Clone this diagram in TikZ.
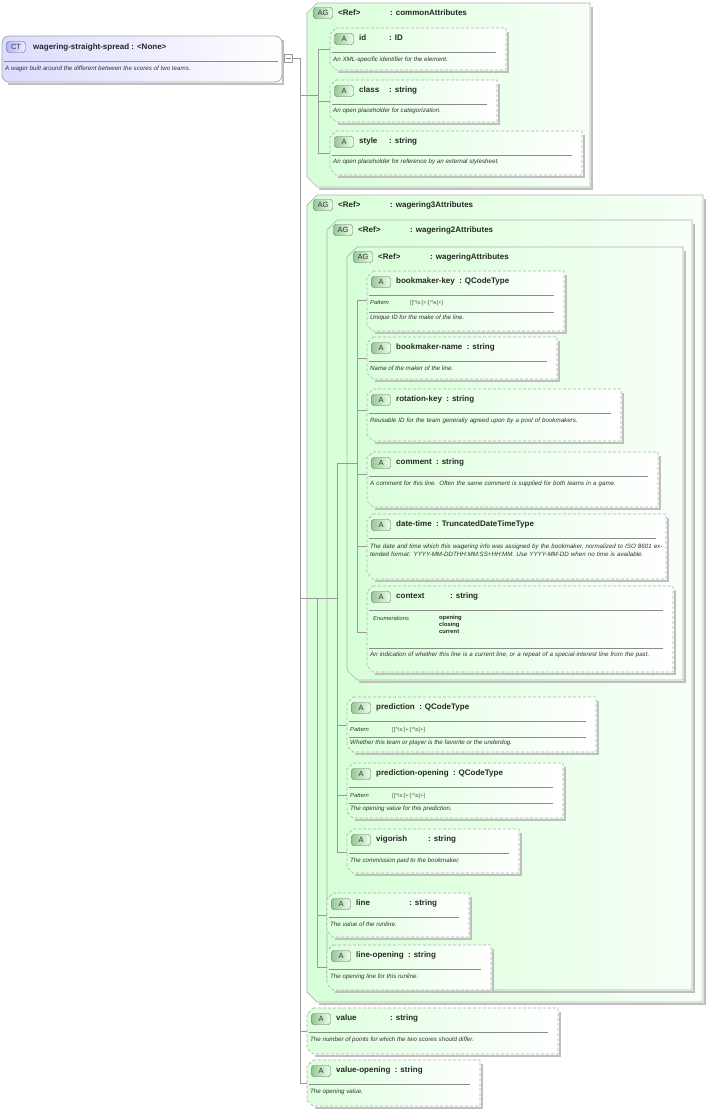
\documentclass[tikz,border=0pt]{standalone}
\usepackage{fontspec}
\setmainfont{Liberation Sans}
\begin{document}
\begin{tikzpicture}[x=1pt,y=-1pt,
 abox/.style={draw=black!30,dashed,dash pattern=on 3pt off 2pt,left color=green!14,right color=white,line width=0.7pt},
 agbox/.style={draw=black!30,left color=green!16,right color=green!3,line width=0.7pt},
 shad/.style={draw=black!25,line width=1.5pt},
 badge/.style={draw=black!60,rounded corners=2.5pt,left color=green!45!black!40,right color=green!8,minimum width=19pt,minimum height=11pt,inner sep=0,font=\fontsize{7.5}{8}\selectfont,text=black!80},
 title/.style={font=\bfseries\fontsize{8}{9}\selectfont,anchor=west,inner sep=0,text=black!85},
 desc/.style={font=\itshape\fontsize{6.2}{7.4}\selectfont,anchor=north west,inner sep=0,align=left,text=black!80},
 small/.style={font=\fontsize{5.6}{6.6}\selectfont,anchor=west,inner sep=0,text=black!65},
 enum/.style={font=\bfseries\fontsize{5.8}{7.2}\selectfont,anchor=north west,inner sep=0,align=left,text=black!85},
 sep/.style={draw=black!45,line width=0.5pt},
 conn/.style={draw=black!40,line width=0.6pt}]
\useasboundingbox (0,0) rectangle (708,1111);
\fill[white] (0,0) rectangle (708,1111);
% attribute box; name given by \an
\newcommand\attr[8]{%
 \draw[shad] (#4+2,#3+4) -- (#4+2,#5+2) -- (#2+8,#5+2);
 \draw[abox] (#2+6,#3) -- (#4,#3) -- (#4,#5) -- (#2+6,#5) -- (#2,#5-6) -- (#2,#3+6) -- cycle;
 \node[badge] (#1b) at (#2+14,#3+11) {A};
 \node[title] (#1n) at (#2+29,#3+10) {\an};
 \ifdim#6pt=0pt \node[title,anchor=west] (#1t) at ([xshift=4pt]#1n.east) {: #7};
 \else \node[title] (#1t) at (#6,#3+10) {: #7};\fi
 \draw[sep] (#2+2,#3+24) -- (#4-10,#3+24);
 \coordinate (#1) at (#2,#3+#8);}
% attribute group
\newcommand\agroup[8]{%
 \draw[shad] (#4+2,#3+4) -- (#4+2,#5+2) -- (#2+12,#5+2);
 \draw[agbox] (#2+10,#3) -- (#4,#3) -- (#4,#5) -- (#2+10,#5) -- (#2,#5-10) -- (#2,#3+10) -- cycle;
 \node[badge] (#1b) at (#2+16,#3+10) {AG};
 \node[title] (#1n) at (#2+31,#3+10) {<Ref>};
 \node[title] (#1t) at (#6,#3+10) {: #7};
 \coordinate (#1) at (#2,#8);}
% root
\draw[shad] (283,40) -- (283,84) -- (8,84);
\draw[draw=black!35,left color=blue!14,right color=white,rounded corners=7pt,line width=0.7pt] (2,36) rectangle (282,82);
\node[badge,left color=blue!30,right color=blue!6,rounded corners=3pt] (ctb) at (16,47) {CT};
\node[title] (ctn) at (33,47) {wagering-straight-spread : <None>};
\draw[sep] (4,61) -- (278,61);
\node[desc] (ctd) at (5,66) {A wager built around the different between the scores of two teams.};
\node[draw=black!40,fill=white,minimum size=8pt,inner sep=0] (minus) at (288,58) {};
\draw[black!50] (285.5,58) -- (290.5,58);
% commonAttributes
\agroup{cA}{307}{3}{590}{187}{390}{commonAttributes}{95}
\def\an{id}\attr{id}{330}{28}{506}{70}{389}{ID}{21}
\node[desc] at (333,57) {An XML-specific identifier for the element.};
\def\an{class}\attr{cls}{330}{80}{497}{122}{389}{string}{21}
\node[desc] at (333,108) {An open placeholder for categorization.};
\def\an{style}\attr{sty}{330}{131}{582}{175}{389}{string}{22}
\node[desc] at (333,159) {An open placeholder for reference by an external stylesheet.};
% wagering3
\agroup{w3}{307}{195}{703}{1002}{390}{wagering3Attributes}{598}
\agroup{w2}{327}{220}{692}{990}{410}{wagering2Attributes}{598}
\agroup{wa}{347}{247}{683}{680}{430}{wageringAttributes}{463}
\def\an{bookmaker-key}\attr{bk}{367}{271}{564}{331}{0}{QCodeType}{29}
\node[desc,font=\itshape\fontsize{5.8}{7}\selectfont] at (370,300) {Pattern};
\node[small] at (410,303.5) {[[\textasciicircum\textbackslash s:]+:[\textasciicircum\textbackslash s]+]};
\draw[sep] (369,312) -- (554,312);
\node[desc] at (370,314.5) {Unique ID for the make of the line.};
\def\an{bookmaker-name}\attr{bn}{367}{337}{557}{379}{0}{string}{21}
\node[desc] at (370,366) {Name of the maker of the line.};
\def\an{rotation-key}\attr{rk}{367}{389}{621}{441}{0}{string}{21}
\node[desc,text width=250pt] at (370,418) {Reusable ID for the team generally agreed upon by a pool of bookmakers.};
\def\an{comment}\attr{cm}{367}{452}{658}{507}{0}{string}{22}
\node[desc,text width=285pt] at (370,481) {A comment for this line. Often the same comment is supplied for\ both teams in a game.};
\def\an{date-time}\attr{dt}{367}{514}{666}{579}{0}{TruncatedDateTimeType}{32}
\node[desc,text width=295pt] at (370,544) {The date and time which this wagering info was assigned by the bookmaker, normalized to ISO 8601 extended format: YYYY-MM-DDTHH:MM:SS+HH:MM. Use YYYY-MM-DD when no time is available.};
\def\an{context}\attr{cx}{367}{586}{673}{672}{450}{string}{46}
\node[desc,font=\itshape\fontsize{5.8}{7}\selectfont] at (373,616) {Enumerations};
\node[enum] at (439,615) {opening\\closing\\current};
\draw[sep] (369,648) -- (663,648);
\node[desc,text width=300pt] at (370,652) {An indication of whether this line is a current line, or a repeat of a special-interest line from the past.};
\def\an{prediction}\attr{pr}{347}{697}{596}{752}{0}{QCodeType}{28}
\node[desc,font=\itshape\fontsize{5.8}{7}\selectfont] at (350,727) {Pattern};
\node[small] at (392,730.5) {[[\textasciicircum\textbackslash s:]+:[\textasciicircum\textbackslash s]+]};
\draw[sep] (349,737) -- (586,737);
\node[desc] at (350,740) {Whether this team or player is the favorite or the underdog.};
\def\an{prediction-opening}\attr{po}{347}{763}{563}{818}{0}{QCodeType}{32}
\node[desc,font=\itshape\fontsize{5.8}{7}\selectfont] at (350,793) {Pattern};
\node[small] at (392,796.5) {[[\textasciicircum\textbackslash s:]+:[\textasciicircum\textbackslash s]+]};
\draw[sep] (349,803) -- (553,803);
\node[desc] at (350,806) {The opening value for this prediction.};
\def\an{vigorish}\attr{vg}{347}{829}{519}{873}{428}{string}{23}
\node[desc] at (350,858) {The commission paid to the bookmaker.};
\def\an{line}\attr{ln}{327}{893}{469}{937}{409}{string}{22}
\node[desc] at (330,922) {The value of the runline.};
\def\an{line-opening}\attr{lo}{327}{945}{491}{990}{0}{string}{22}
\node[desc] at (330,974) {The opening line for this runline.};
\def\an{value}\attr{va}{307}{1008}{558}{1054}{390}{string}{23}
\node[desc] at (310,1037) {The number of points for which the two scores should differ.};
\def\an{value-opening}\attr{vo}{307}{1060}{480}{1106}{0}{string}{23}
\node[desc] at (310,1089) {The opening value.};
% connectors
\coordinate (rj) at (300,58);
\draw[conn] (minus.east) -- (rj) -- (rj |- vo);
\foreach \t in {cA,w3,va,vo} \draw[conn] (rj |- \t) -- (\t);
\coordinate (cj) at (318,49);
\draw[conn] (cA) -- (cj |- cA);
\draw[conn] (cj |- id) -- (cj |- sty);
\foreach \t in {id,cls,sty} \draw[conn] (cj |- \t) -- (\t);
\coordinate (j3) at (317,598);
\draw[conn] (w3) -- (j3) -- (j3 |- lo);
\foreach \t in {w2,ln,lo} \draw[conn] (j3 |- \t) -- (\t);
\coordinate (j2) at (337,598);
\draw[conn] (w2) -- (j2);
\draw[conn] (j2 |- wa) -- (j2 |- vg);
\foreach \t in {wa,pr,po,vg} \draw[conn] (j2 |- \t) -- (\t);
\coordinate (ja) at (357,463);
\draw[conn] (wa) -- (ja);
\draw[conn] (ja |- bk) -- (ja |- cx);
\foreach \t in {bk,bn,rk,cm,dt,cx} \draw[conn] (ja |- \t) -- (\t);
\end{tikzpicture}
\end{document}
